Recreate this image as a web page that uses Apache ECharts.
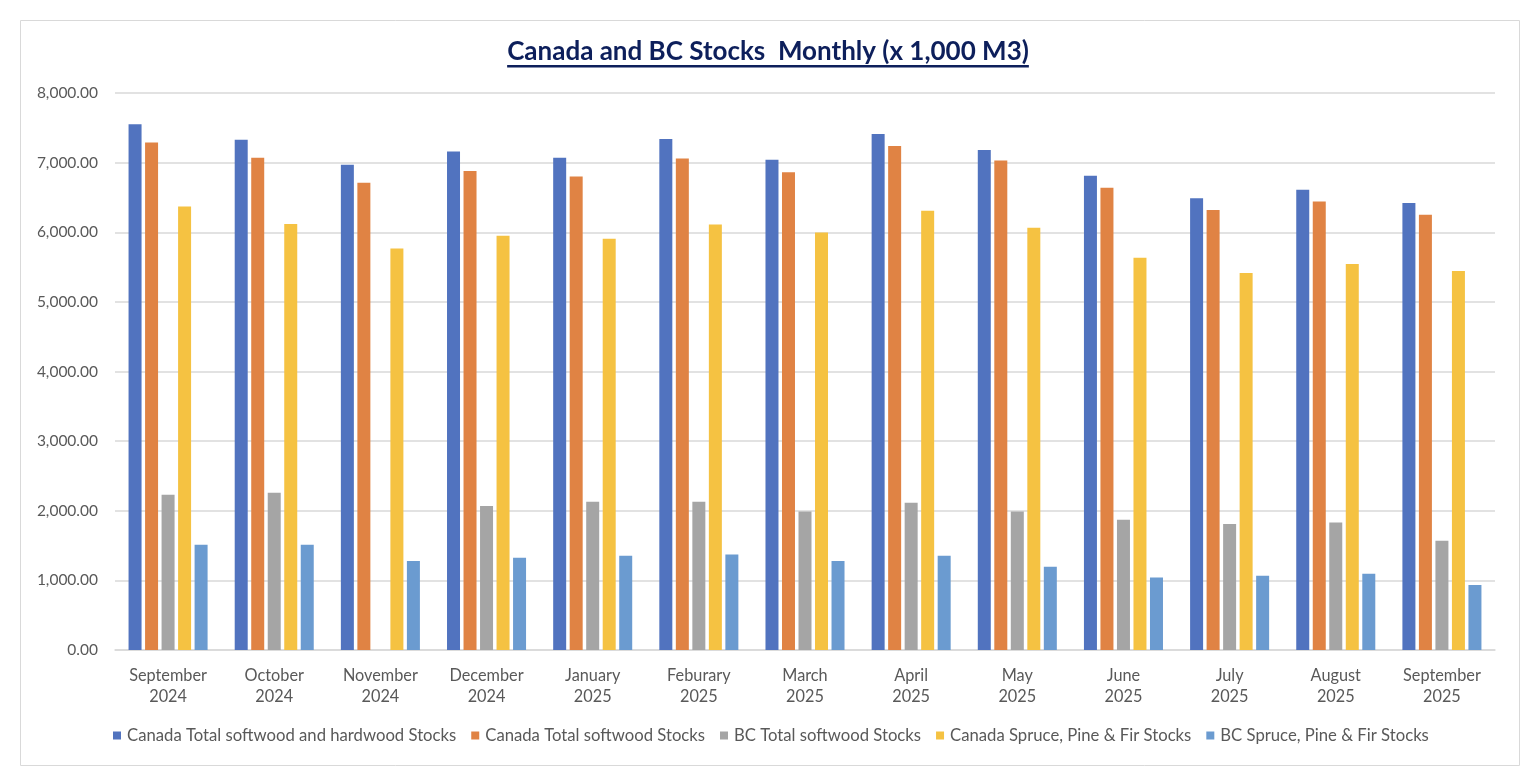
<!DOCTYPE html>
<html><head><meta charset="utf-8">
<script src="https://cdn.jsdelivr.net/npm/echarts@6/dist/echarts.min.js"></script>
<style>html,body{margin:0;padding:0;background:#fff}#c{width:1534px;height:782px}</style>
</head><body><div id="c"></div>
<script>
const categories = ["September\n2024","October\n2024","November\n2024","December\n2024","January\n2025","Feburary\n2025","March\n2025","April\n2025","May\n2025","June\n2025","July\n2025","August\n2025","September\n2025"];
const canadaTotal = [7550,7330,6970,7160,7070,7340,7040,7410,7180,6810,6490,6610,6420];
const canadaSoftwood = [7290,7070,6710,6880,6800,7060,6860,7240,7030,6640,6320,6440,6250];
const bcSoftwood = [2230,2260,null,2070,2130,2130,1990,2115,1990,1870,1810,1830,1570];
const canadaSPF = [6370,6120,5765,5950,5905,6110,5995,6310,6065,5635,5415,5545,5445];
const bcSPF = [1510,1510,1280,1325,1355,1370,1280,1355,1195,1040,1065,1095,935];
const seriesNames = ["Canada Total softwood and hardwood Stocks","Canada Total softwood Stocks","BC Total softwood Stocks","Canada Spruce, Pine & Fir Stocks","BC Spruce, Pine & Fir Stocks"];
const colors = ["#5173bf","#e08344","#a5a5a5","#f5c242","#6b9bd0"];
const titleText = "Canada and BC Stocks  Monthly (x 1,000 M3)";

const FONT = "Lato, 'Open Sans', sans-serif";
const titleFont = "bold 26px Lato";
const cv = document.createElement('canvas').getContext('2d');
cv.font = titleFont;
const tw = cv.measureText(titleText).width;

const chart = echarts.init(document.getElementById('c'), null, {renderer:'canvas'});
const dataSets = [canadaTotal, canadaSoftwood, bcSoftwood, canadaSPF, bcSPF];
chart.setOption({
  animation:false,
  color: colors,
  textStyle:{fontFamily:FONT},
  grid:{left:115,right:39,top:93,bottom:132,containLabel:false},
  graphic:[
    {type:'rect',shape:{x:20.5,y:20.5,width:1499,height:745},style:{fill:null,stroke:'#d9d9d9',lineWidth:1},silent:true},
    {type:'text',x:768,y:52,style:{text:titleText,font:titleFont,fill:'#0d1f5b',align:'center',verticalAlign:'middle'}},
    {type:'rect',shape:{x:768-tw/2,y:65,width:tw,height:2.5},style:{fill:'#0d1f5b'}}
  ],
  legend:{
    bottom:33,left:108,itemWidth:8,itemHeight:8,itemGap:15,icon:'rect',
    textStyle:{color:'#595959',fontSize:16.7,fontFamily:FONT,padding:[0,0,0,1]},
    data:seriesNames
  },
  xAxis:{
    type:'category',data:categories,
    axisLine:{lineStyle:{color:'#d9d9d9',width:1.5}},
    axisTick:{show:false},
    axisLabel:{color:'#595959',fontSize:16.3,lineHeight:21,margin:15,interval:0,fontFamily:FONT}
  },
  yAxis:{
    type:'value',min:0,max:8000,interval:1000,
    axisLine:{show:false},axisTick:{show:false},
    splitLine:{lineStyle:{color:'#d9d9d9',width:1.5}},
    axisLabel:{color:'#595959',fontSize:15.5,margin:17,fontFamily:FONT,
      formatter:v=>v.toLocaleString('en-US',{minimumFractionDigits:2,maximumFractionDigits:2})}
  },
  series: seriesNames.map((n,i)=>({
    name:n,type:'bar',data:dataSets[i],barWidth:13,barGap:'27%',
    itemStyle:{color:colors[i]}
  }))
});
</script></body></html>
